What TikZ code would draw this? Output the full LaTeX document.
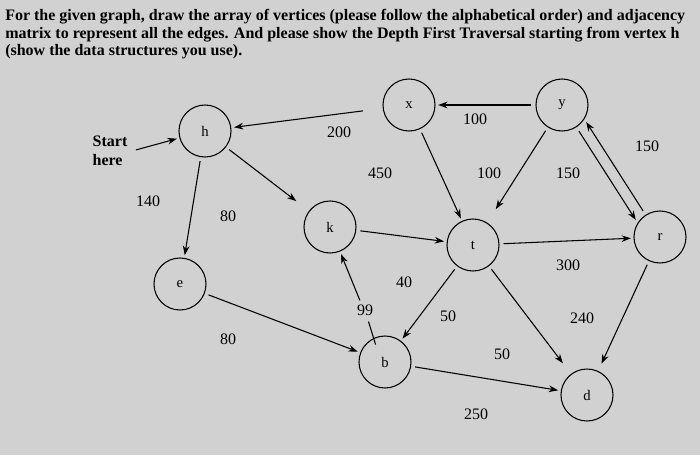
\documentclass[tikz,border=0pt]{standalone}
\usepackage{fontspec}
\setmainfont{Liberation Serif}
\usetikzlibrary{arrows.meta,calc}
\begin{document}
\begin{tikzpicture}[x=0.75pt,y=-0.75pt,
  vtx/.style={circle,draw,line width=0.8pt,minimum size=39pt,inner sep=0pt,font=\fontsize{11}{13}\selectfont},
  edge/.style={-{Stealth[length=7pt,width=5pt]},line width=0.8pt,shorten >=2pt,shorten <=3pt},
  wt/.style={font=\fontsize{12}{14}\selectfont},
  ttl/.style={anchor=west,font=\bfseries\fontsize{12}{14}\selectfont,inner sep=0pt}]
\fill[gray!36] (0,0) rectangle (700,455);
\useasboundingbox (0,0) rectangle (700,455);
\node[ttl] (t1) at (5,17) {For the given graph, draw the array of vertices (please follow the alphabetical order) and adjacency};
\node[ttl] (t2) at (5,35) {matrix to represent all the edges. And please show the Depth First Traversal starting from vertex h};
\node[ttl] (t3) at (5,52) {(show the data structures you use).};
\node[vtx] (h) at (205,131) {h};
\node[vtx] (x) at (409,105) {x};
\node[vtx] (y) at (562,105) {y};
\node[vtx] (k) at (330,227) {k};
\node[vtx] (t) at (473,245) {t};
\node[vtx] (r) at (660,237) {r};
\node[vtx] (e) at (180,284) {e};
\node[vtx] (b) at (385,362) {b};
\node[vtx] (d) at (587,395) {d};
\node[font=\bfseries\fontsize{12}{14}\selectfont,align=left] (start) at (110,151) {Start\\here};
\draw[edge] (start.east) -- (h);
\draw[edge] (y) -- (x);
\draw[edge,shorten <=15pt] (x) -- (h);
\draw[edge,shorten >=12pt] (h) -- (k);
\draw[edge] (h) -- (e);
\draw[edge] (x) -- (t);
\draw[edge,shorten >=12pt] (y) -- (t);
\draw[edge] ([xshift=-3pt,yshift=-3pt]y.south east) -- ([xshift=-3pt,yshift=-3pt]r.north west);
\draw[edge] ([xshift=3pt,yshift=3pt]r.north west) -- ([xshift=3pt,yshift=3pt]y.south east);
\draw[edge] (k) -- (t);
\draw[edge] (t) -- (r);
\draw[edge] (t) -- (b);
\draw[edge,shorten >=10pt] (t) -- (d);
\draw[edge,shorten >=6pt] (r) -- (d);
\draw[line width=0.8pt] (b.north west) ++(7pt,-1pt) coordinate (bk1) -- ($(b)!0.3!(k)$) coordinate (bk2);
\draw[edge,shorten <=30pt] (b) -- (k);
\draw[edge] (e) -- (b);
\draw[edge] (b) -- (d);
\node[wt] (w1) at (475,119) {100};
\node[wt] (w2) at (339,132) {200};
\node[wt] (w3) at (647,146) {150};
\node[wt] (w4) at (380,173) {450};
\node[wt] (w5) at (489,173) {100};
\node[wt] (w6) at (568,173) {150};
\node[wt] (w7) at (148,201) {140};
\node[wt] (w8) at (228,216) {80};
\node[wt] (w9) at (568,265) {300};
\node[wt] (w10) at (404,282) {40};
\node[wt] (w11) at (365,310) {99};
\node[wt] (w12) at (448,316) {50};
\node[wt] (w13) at (582,318) {240};
\node[wt] (w14) at (228,339) {80};
\node[wt] (w15) at (502,354) {50};
\node[wt] (w16) at (476,414) {250};
\end{tikzpicture}
\end{document}
